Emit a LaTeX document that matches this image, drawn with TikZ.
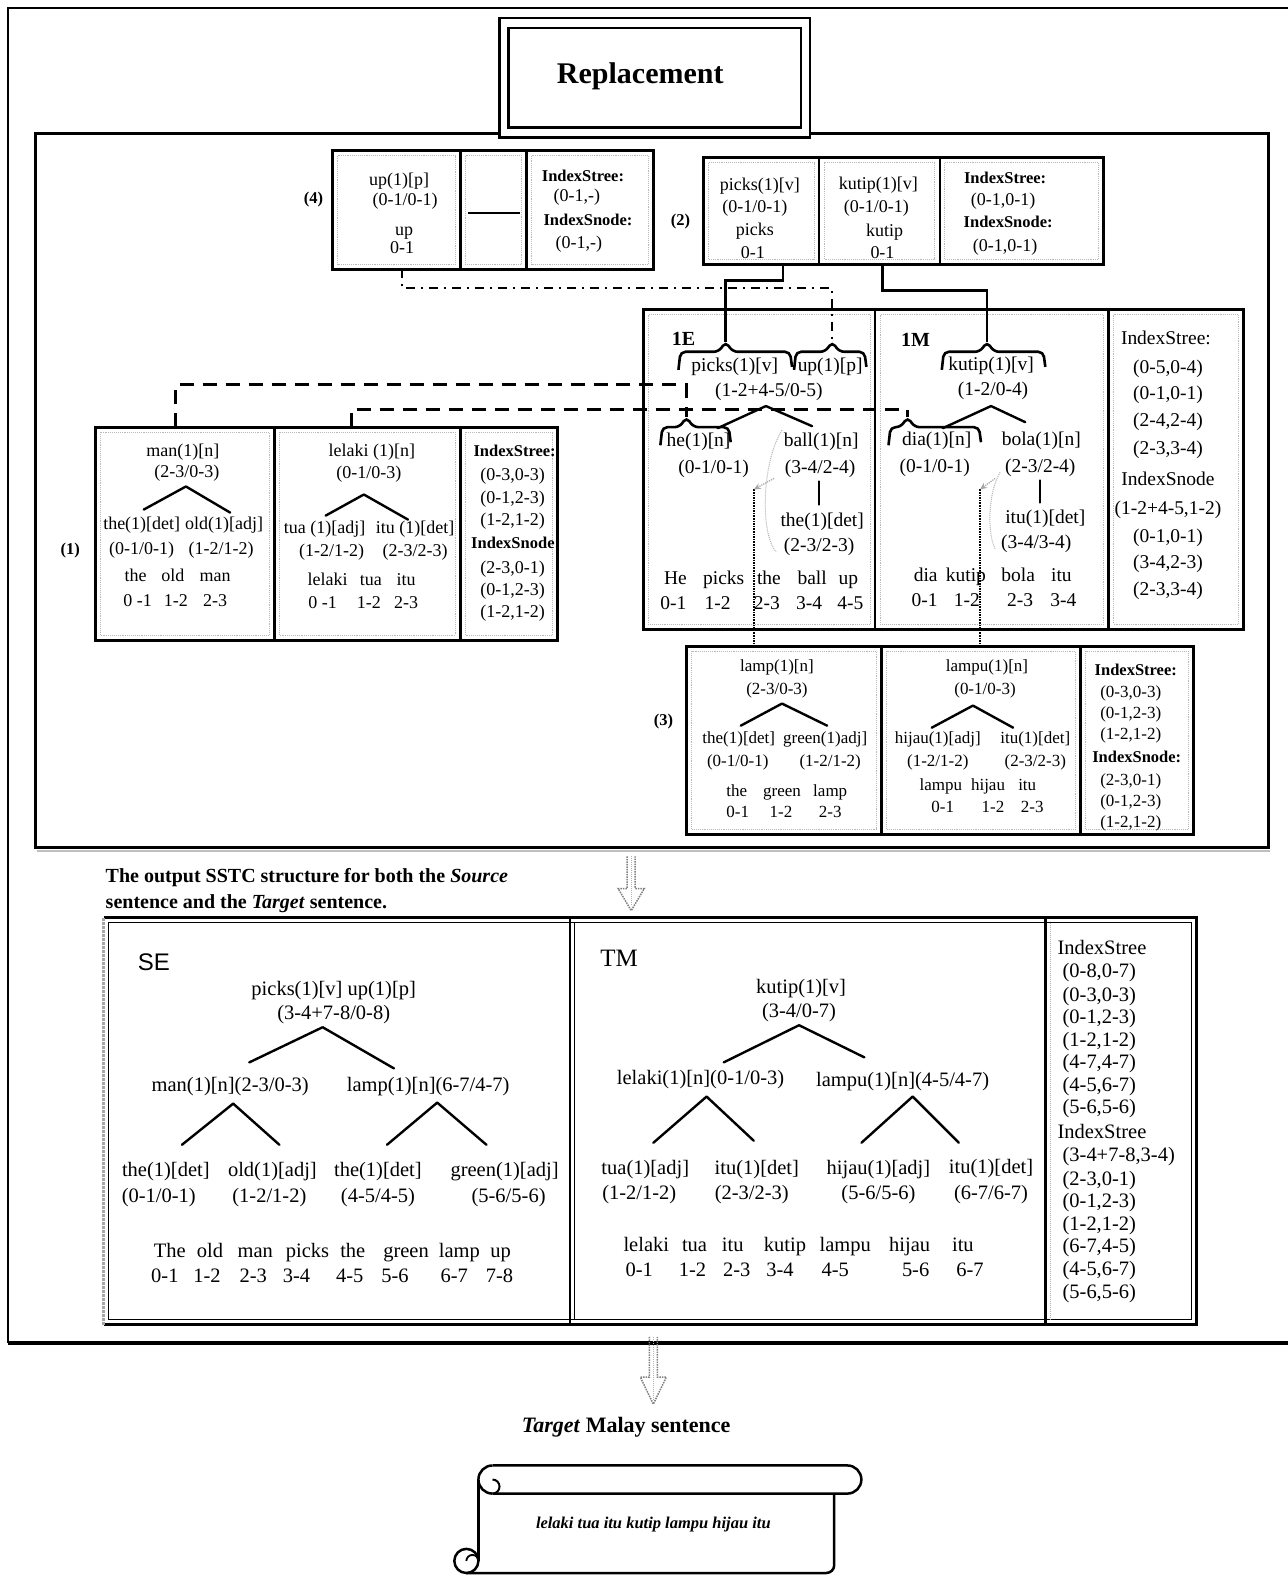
\documentclass[tikz,border=0pt]{standalone}
\usepackage{fontspec}
\setmainfont{Liberation Serif}
\newfontfamily\sansf{Liberation Sans}
\usetikzlibrary{arrows.meta,calc}
\newcommand\myinset[4]{\draw[gray!55, densely dotted, line width=0.9pt] ({#1+5},{#2+5}) rectangle ({#3-5},{#4-5});}
\newcommand\mybrace[4]{\draw[line width=2.6pt, rounded corners=5pt] (#1,{#4+18}) -- ({#1+2},#4) -- ({#3-7},#4) -- (#3,{#4-10}) -- ({#3+7},#4) -- ({#2-2},#4) -- (#2,{#4+15});}
\begin{document}
\begin{tikzpicture}[x=1.0055pt,y=-1.0055pt,
  every node/.style={inner sep=0pt},
  s/.style={font=\fontsize{18}{20}\selectfont, text height=13pt, text depth=4pt},
  sc/.style={font=\fontsize{17}{19}\selectfont, text height=12.5pt, text depth=4pt},
  sb/.style={font=\fontsize{16.5}{18}\selectfont\bfseries, text height=12pt, text depth=3.5pt},
  m/.style={font=\fontsize{19.5}{21}\selectfont, text height=14pt, text depth=4.5pt},
  bt/.style={font=\fontsize{20.5}{22}\selectfont, text height=14.5pt, text depth=4.5pt},
  frame/.style={line width=3pt},
  divider/.style={line width=2.5pt},
  tree/.style={line width=2.4pt, line cap=round},
  conn/.style={line width=2.6pt},
  dsh/.style={line width=3pt, dash pattern=on 14pt off 9pt},
  dashdot/.style={line width=2pt, dash pattern=on 9pt off 6pt on 2pt off 6pt},
  arr/.style={gray, densely dotted, line width=1.5pt},
]
\useasboundingbox (0,0) rectangle (1281,1568);
\fill[white] (0,0) rectangle (1281,1568);

% ---------- outer frame ----------
\draw[line width=2pt] (1281,8) -- (8,8) -- (8,1336);
\draw[line width=3.5pt] (8,1336) -- (1281,1336);

% ---------- replacement frame ----------
\draw[frame] (35,133) rectangle (1262,843);
\draw[gray!50, line width=2pt] (37,846.5) -- (1264,846.5);

% ---------- title ----------
\draw[line width=2.5pt, fill=white] (497,18) rectangle (806,137);
\draw[line width=2.5pt] (506,28) rectangle (797,127);
\node[font=\fontsize{30}{32}\selectfont\bfseries] (title) at (637,76) {Replacement};

% ---------- box (4) ----------
\draw[frame] (331,150) rectangle (650,268);
\draw[divider] (458,150) -- (458,268) (524,150) -- (524,268);
\myinset{331}{150}{458}{268}\myinset{458}{150}{524}{268}\myinset{524}{150}{650}{268}
\node[sb] (lab4) at (312,198) {(4)};
\node[s] (b4a) at (397,180) {up(1)[p]};
\node[s] (b4b) at (403,200) {(0-1/0-1)};
\node[s] (b4c) at (402,230) {up};
\node[s] (b4d) at (400,248) {0-1};
\coordinate (b4l) at (466,212); \coordinate (b4r) at (517,212);
\draw[line width=2.5pt] (b4l) -- (b4r);
\node[sb] (b4i1) at (580,176) {IndexStree:};
\node[s] (b4i2) at (574,196) {(0-1,-)};
\node[sb] (b4i3) at (585,220) {IndexSnode:};
\node[s] (b4i4) at (576,243) {(0-1,-)};

% ---------- box (2) ----------
\draw[frame] (700,157) rectangle (1098,263);
\draw[divider] (815,157) -- (815,263) (935,157) -- (935,263);
\myinset{700}{157}{815}{263}\myinset{815}{157}{935}{263}\myinset{935}{157}{1098}{263}
\node[sb] (lab2) at (677,220) {(2)};
\node[s] (b2a) at (756,185) {picks(1)[v]};
\node[s] (b2b) at (751,207) {(0-1/0-1)};
\node[s] (b2c) at (751,230) {picks};
\node[s] (b2d) at (749,253) {0-1};
\node[s] (b2e) at (874,184) {kutip(1)[v]};
\node[s] (b2f) at (872,207) {(0-1/0-1)};
\node[s] (b2g) at (880,231) {kutip};
\node[s] (b2h) at (878,253) {0-1};
\node[sb] (b2i1) at (1000,178) {IndexStree:};
\node[s] (b2i2) at (998,200) {(0-1,0-1)};
\node[sb] (b2i3) at (1003,222) {IndexSnode:};
\node[s] (b2i4) at (1000,246) {(0-1,0-1)};

% ---------- box 1E / 1M ----------
\draw[frame] (640,308) rectangle (1237,626);
\draw[line width=2pt] (871,308) -- (871,626);
\draw[frame] (1103,308) -- (1103,626);
\myinset{640}{308}{871}{626}\myinset{871}{308}{1103}{626}\myinset{1103}{308}{1237}{626}
\node[font=\fontsize{20}{22}\selectfont\bfseries] (E1) at (680,337) {1E};
\node[font=\fontsize{20}{22}\selectfont\bfseries] (M1) at (911,338) {1M};
% 1E tree
\node[m] (ePicks) at (731,365) {picks(1)[v]};
\node[m] (eUp) at (826,365) {up(1)[p]};
\node[m] (eIdx) at (765,390) {(1-2+4-5/0-5)};
\mybrace{675}{788}{722}{350}
\mybrace{790}{862}{828}{350}
\coordinate (tipPicks) at (722,340);
\coordinate (tipUp) at (828,340);
\coordinate (ePk) at (762,404); \coordinate (eL) at (714,426); \coordinate (eR) at (808,424);
\draw[tree] (ePk) -- (eL) (ePk) -- (eR);
\mybrace{657}{727}{683}{425}
\coordinate (tipHe) at (683,415);
\node[m] (eHe) at (695,440) {he(1)[n]};
\node[m] (eHeI) at (710,466) {(0-1/0-1)};
\node[m] (eBall) at (817,440) {ball(1)[n]};
\node[m] (eBallI) at (816,466) {(3-4/2-4)};
\coordinate (eB1) at (815,479); \coordinate (eB2) at (815,502);
\draw[tree] (eB1) -- (eB2);
\node[m] (eThe) at (818,519) {the(1)[det]};
\node[m] (eTheI) at (815,544) {(2-3/2-3)};
\foreach \w/\xx [count=\i] in {He/672,picks/720,the/765,ball/808,up/844}
  \node[m] (es\i) at (\xx,577) {\w};
\foreach \w/\xx [count=\i] in {0-1/670,1-2/714,2-3/763,3-4/805,4-5/846}
  \node[m] (en\i) at (\xx,602) {\w};
% dotted links in 1E
\coordinate (eD1) at (750,487); \coordinate (eD2) at (750,643);
\draw[line width=1.6pt, densely dotted] (eD1) -- (eD2);
\coordinate (eA1) at (770,476);
\draw[gray!70, densely dotted, line width=1.2pt, -{Stealth[length=7pt,width=6pt]}] (eA1) -- (eD1);
\coordinate (eG1) at (778,428); \coordinate (eG2) at (772,549);
\draw[gray!60, densely dotted, line width=1pt] (eG1) .. controls (758,460) and (756,530) .. (eG2);
% 1M tree
\node[m] (mKutip) at (986,364) {kutip(1)[v]};
\node[m] (mIdx) at (988,389) {(1-2/0-4)};
\mybrace{937}{1040}{982}{350}
\coordinate (tipKutip) at (982,340);
\coordinate (mPk) at (986,404); \coordinate (mL) at (938,426); \coordinate (mR) at (1020,420);
\draw[tree] (mPk) -- (mL) (mPk) -- (mR);
\mybrace{884}{976}{903}{425}
\coordinate (tipDia) at (903,415);
\node[m] (mDia) at (932,439) {dia(1)[n]};
\node[m] (mDiaI) at (930,465) {(0-1/0-1)};
\node[m] (mBola) at (1036,439) {bola(1)[n]};
\node[m] (mBolaI) at (1035,465) {(2-3/2-4)};
\coordinate (mB1) at (1035,478); \coordinate (mB2) at (1035,500);
\draw[tree] (mB1) -- (mB2);
\node[m] (mItu) at (1040,516) {itu(1)[det]};
\node[m] (mItuI) at (1031,541) {(3-4/3-4)};
\foreach \w/\xx [count=\i] in {dia/921,kutip/961,bola/1013,itu/1056}
  \node[m] (ms\i) at (\xx,574) {\w};
\foreach \w/\xx [count=\i] in {0-1/920,1-2/962,2-3/1015,3-4/1058}
  \node[m] (mn\i) at (\xx,599) {\w};
\coordinate (mD1) at (975,487); \coordinate (mD2) at (975,643);
\draw[line width=1.6pt, densely dotted] (mD1) -- (mD2);
\coordinate (mA1) at (990,476);
\draw[gray!70, densely dotted, line width=1.2pt, -{Stealth[length=7pt,width=6pt]}] (mA1) -- (mD1);
\coordinate (mG1) at (995,470); \coordinate (mG2) at (990,546);
\draw[gray!60, densely dotted, line width=1pt] (mG1) .. controls (983,490) and (982,530) .. (mG2);
% 1E index column
\node[m] (ei0) at (1160,338) {IndexStree:};
\foreach \yy/\lbl [count=\i] in {367/{(0-5,0-4)},393/{(0-1,0-1)},420/{(2-4,2-4)},447/{(2-3,3-4)},478/{IndexSnode},507/{(1-2+4-5,1-2)},535/{(0-1,0-1)},561/{(3-4,2-3)},588/{(2-3,3-4)}}
  \node[m] (ei\i) at (1162,\yy) {\lbl};

% ---------- box (1) ----------
\draw[frame] (95,425) rectangle (555,637);
\draw[divider] (273,425) -- (273,637);
\draw[frame] (458,425) -- (458,637);
\myinset{95}{425}{273}{637}\myinset{273}{425}{458}{637}\myinset{458}{425}{555}{637}
\node[sb] (lab1) at (70,547) {(1)};
\node[s] (aMan) at (182,450) {man(1)[n]};
\node[s] (aManI) at (186,471) {(2-3/0-3)};
\coordinate (aPk) at (185,484); \coordinate (aL) at (143,507); \coordinate (aR) at (229,510);
\draw[tree] (aPk) -- (aL) (aPk) -- (aR);
\node[s] (aThe) at (141,522) {the(1)[det]};
\node[s] (aOld) at (223,522) {old(1)[adj]};
\node[s] (aTheI) at (141,547) {(0-1/0-1)};
\node[s] (aOldI) at (220,547) {(1-2/1-2)};
\foreach \w/\xx [count=\i] in {the/135,old/172,man/214}
  \node[s] (as\i) at (\xx,574) {\w};
\foreach \w/\xx [count=\i] in {0 -1/137,1-2/175,2-3/214}
  \node[s] (an\i) at (\xx,599) {\w};
\node[s] (aLel) at (370,450) {lelaki (1)[n]};
\node[s] (aLelI) at (367,472) {(0-1/0-3)};
\coordinate (bPk) at (362,492); \coordinate (bL) at (324,513); \coordinate (bR) at (406,517);
\draw[tree] (bPk) -- (bL) (bPk) -- (bR);
\node[s] (aTua) at (323,526) {tua (1)[adj]};
\node[s] (aItu) at (413,526) {itu (1)[det]};
\node[s] (aTuaI) at (330,549) {(1-2/1-2)};
\node[s] (aItuI) at (413,549) {(2-3/2-3)};
\foreach \w/\xx [count=\i] in {lelaki/326,tua/369,itu/404}
  \node[s] (bs\i) at (\xx,578) {\w};
\foreach \w/\xx [count=\i] in {0 -1/321,1-2/367,2-3/404}
  \node[s] (bn\i) at (\xx,601) {\w};
\node[sb] (ai0) at (512,450) {IndexStree:};
\node[sb] (ai4) at (513,541) {IndexSnode:};
\foreach \yy/\lbl [count=\i] in {474/{(0-3,0-3)},496/{(0-1,2-3)},518/{(1-2,1-2)},566/{(2-3,0-1)},588/{(0-1,2-3)},610/{(1-2,1-2)}}
  \node[s] (aix\i) at (510,\yy) {\lbl};
\coordinate (c1m) at (175,425);
\coordinate (c1l) at (350,425);

% ---------- box (3) ----------
\draw[frame] (683,643) rectangle (1187,830);
\draw[divider] (877,643) -- (877,830);
\draw[frame] (1075,643) -- (1075,830);
\myinset{683}{643}{877}{830}\myinset{877}{643}{1075}{830}\myinset{1075}{643}{1187}{830}
\node[sb] (lab3) at (660,718) {(3)};
\node[sc] (cLamp) at (773,664) {lamp(1)[n]};
\node[sc] (cLampI) at (773,687) {(2-3/0-3)};
\coordinate (cPk) at (778,700); \coordinate (cL) at (737,722); \coordinate (cR) at (823,722);
\draw[tree] (cPk) -- (cL) (cPk) -- (cR);
\node[sc] (cThe) at (735,735) {the(1)[det]};
\node[sc] (cGreen) at (821,735) {green(1)adj]};
\node[sc] (cTheI) at (734,758) {(0-1/0-1)};
\node[sc] (cGreenI) at (826,758) {(1-2/1-2)};
\foreach \w/\xx [count=\i] in {the/733,green/778,lamp/826}
  \node[sc] (cs\i) at (\xx,788) {\w};
\foreach \w/\xx [count=\i] in {0-1/734,1-2/777,2-3/826}
  \node[sc] (cn\i) at (\xx,809) {\w};
\node[sc] (dLampu) at (982,664) {lampu(1)[n]};
\node[sc] (dLampuI) at (980,687) {(0-1/0-3)};
\coordinate (dPk) at (968,702); \coordinate (dL) at (927,724); \coordinate (dR) at (1008,724);
\draw[tree] (dPk) -- (dL) (dPk) -- (dR);
\node[sc] (dHij) at (933,735) {hijau(1)[adj]};
\node[sc] (dItu) at (1030,735) {itu(1)[det]};
\node[sc] (dHijI) at (933,758) {(1-2/1-2)};
\node[sc] (dItuI) at (1030,758) {(2-3/2-3)};
\foreach \w/\xx [count=\i] in {lampu/936,hijau/983,itu/1022}
  \node[sc] (ds\i) at (\xx,782) {\w};
\foreach \w/\xx [count=\i] in {0-1/938,1-2/988,2-3/1027}
  \node[sc] (dn\i) at (\xx,804) {\w};
\node[sb] (ci0) at (1130,668) {IndexStree:};
\node[sb] (ci4) at (1131,754) {IndexSnode:};
\foreach \yy/\lbl [count=\i] in {690/{(0-3,0-3)},711/{(0-1,2-3)},732/{(1-2,1-2)},777/{(2-3,0-1)},798/{(0-1,2-3)},819/{(1-2,1-2)}}
  \node[sc] (cix\i) at (1125,\yy) {\lbl};

% ---------- connectors in replacement area ----------
\coordinate (c2p) at (779,263);
\coordinate (c2k) at (878,263);
\coordinate (c4u) at (400,268);
\draw[conn] (c2p) -- ++(0,16) -| (tipPicks);
\draw[conn] (c2k) -- ++(0,26) -| (tipKutip);
\draw[dashdot] (c4u) -- ++(0,19) -| (tipUp);
\draw[dsh] (c1m) -- ++(0,-42) -| (tipHe);
\draw[dsh] (c1l) -- ++(0,-18) -| (tipDia);

% ---------- arrow 1 ----------
\coordinate (ar1) at (628,852);
\draw[arr] (ar1) ++(-4,0) -- ++(0,32) -- ++(-9,0) -- (628,906) -- (641,884) -- (632,884) -- (632,852);
\draw[gray!60, densely dotted, line width=1pt] (628,852) -- (628,900);

% ---------- caption ----------
\node[anchor=west, font=\fontsize{20}{22}\selectfont\bfseries] (cap1) at (105,873) {The output SSTC structure for both the \textit{Source}};
\node[anchor=west, font=\fontsize{20}{22}\selectfont\bfseries] (cap2) at (105,899) {sentence and the \textit{Target} sentence.};

% ---------- bottom box ----------
\draw[line width=3pt] (103,913) -- (1190,913) -- (1190,1318) -- (103,1318);
\draw[gray!70, densely dotted, line width=3pt] (103,913) -- (103,1318);
\draw[line width=1pt] (108,918) rectangle (1185,1313);
\draw[line width=2.5pt] (567,913) -- (567,1318);
\draw[line width=1pt] (572,918) -- (572,1313);
\draw[line width=3pt] (1040,913) -- (1040,1318);
\draw[gray!60, densely dotted, line width=1pt] (1045,918) -- (1045,1313);
% SE
\node[font=\sansf\fontsize{24}{26}\selectfont] (SE) at (153,957) {SE};
\node[bt] (se1) at (332,985) {picks(1)[v] up(1)[p]};
\node[bt] (se2) at (332,1009) {(3-4+7-8/0-8)};
\coordinate (sPk) at (321,1022); \coordinate (sL) at (248,1057); \coordinate (sR) at (392,1063);
\draw[tree] (sPk) -- (sL) (sPk) -- (sR);
\node[bt] (se3) at (229,1081) {man(1)[n](2-3/0-3)};
\node[bt] (se4) at (426,1081) {lamp(1)[n](6-7/4-7)};
\coordinate (sPk2) at (232,1098); \coordinate (sL2) at (181,1139); \coordinate (sR2) at (278,1139);
\draw[tree] (sPk2) -- (sL2) (sPk2) -- (sR2);
\coordinate (sPk3) at (435,1097); \coordinate (sL3) at (385,1139); \coordinate (sR3) at (484,1139);
\draw[tree] (sPk3) -- (sL3) (sPk3) -- (sR3);
\node[bt] (se5) at (165,1166) {the(1)[det]};
\node[bt] (se6) at (158,1191) {(0-1/0-1)};
\node[bt] (se7) at (271,1166) {old(1)[adj]};
\node[bt] (se8) at (268,1191) {(1-2/1-2)};
\node[bt] (se9) at (376,1166) {the(1)[det]};
\node[bt] (se10) at (376,1191) {(4-5/4-5)};
\node[bt] (se11) at (502,1166) {green(1)[adj]};
\node[bt] (se12) at (506,1191) {(5-6/5-6)};
\foreach \w/\xx [count=\i] in {The/169,old/209,man/254,picks/306,the/351,green/404,lamp/457,up/498}
  \node[bt] (ss\i) at (\xx,1246) {\w};
\foreach \w/\xx [count=\i] in {0-1/164,1-2/206,2-3/252,3-4/295,4-5/348,5-6/393,6-7/452,7-8/497}
  \node[bt] (sn\i) at (\xx,1271) {\w};
% TM
\node[font=\fontsize{25}{27}\selectfont] (TM) at (616,953) {TM};
\node[bt] (tm1) at (797,983) {kutip(1)[v]};
\node[bt] (tm2) at (795,1007) {(3-4/0-7)};
\coordinate (tPk) at (795,1020); \coordinate (tL) at (720,1057); \coordinate (tR) at (860,1052);
\draw[tree] (tPk) -- (tL) (tPk) -- (tR);
\node[bt] (tm3) at (697,1074) {lelaki(1)[n](0-1/0-3)};
\node[bt] (tm4) at (898,1076) {lampu(1)[n](4-5/4-7)};
\coordinate (tPk2) at (703,1091); \coordinate (tL2) at (650,1137); \coordinate (tR2) at (750,1135);
\draw[tree] (tPk2) -- (tL2) (tPk2) -- (tR2);
\coordinate (tPk3) at (908,1091); \coordinate (tL3) at (857,1137); \coordinate (tR3) at (954,1137);
\draw[tree] (tPk3) -- (tL3) (tPk3) -- (tR3);
\node[bt] (tm5) at (642,1164) {tua(1)[adj]};
\node[bt] (tm6) at (636,1188) {(1-2/1-2)};
\node[bt] (tm7) at (753,1164) {itu(1)[det]};
\node[bt] (tm8) at (748,1188) {(2-3/2-3)};
\node[bt] (tm9) at (874,1164) {hijau(1)[adj]};
\node[bt] (tm10) at (874,1188) {(5-6/5-6)};
\node[bt] (tm11) at (986,1163) {itu(1)[det]};
\node[bt] (tm12) at (986,1188) {(6-7/6-7)};
\foreach \w/\xx [count=\i] in {lelaki/643,tua/691,itu/729,kutip/781,lampu/841,hijau/905,itu/958}
  \node[bt] (ts\i) at (\xx,1240) {\w};
\foreach \w/\xx [count=\i] in {0-1/636,1-2/689,2-3/733,3-4/776,4-5/831,5-6/911,6-7/965}
  \node[bt] (tn\i) at (\xx,1265) {\w};
% index column
\node[bt, anchor=west] (xi0) at (1052,945) {IndexStree};
\node[bt, anchor=west] (xi8) at (1052,1128) {IndexStree};
\foreach \yy/\lbl [count=\i] in {968/{(0-8,0-7)},991/{(0-3,0-3)},1013/{(0-1,2-3)},1036/{(1-2,1-2)},1058/{(4-7,4-7)},1081/{(4-5,6-7)},1103/{(5-6,5-6)},1151/{(3-4+7-8,3-4)},1174/{(2-3,0-1)},1196/{(0-1,2-3)},1219/{(1-2,1-2)},1241/{(6-7,4-5)},1264/{(4-5,6-7)},1287/{(5-6,5-6)}}
  \node[bt, anchor=west] (xix\i) at (1057,\yy) {\lbl};

% ---------- arrow 2 ----------
\coordinate (ar2) at (650,1330);
\draw[arr] (ar2) ++(-4,0) -- ++(0,40) -- ++(-9,0) -- (650,1397) -- (663,1370) -- (654,1370) -- (654,1330);
\draw[gray!60, densely dotted, line width=1pt] (650,1330) -- (650,1392);

% ---------- target ----------
\node[font=\fontsize{22}{24}\selectfont\bfseries] (tgt) at (623,1420) {\textit{Target} Malay sentence};

% ---------- scroll ----------
\draw[line width=2.5pt] (490,1458) -- (843,1458) arc[start angle=-90, end angle=90, radius=14] -- (490,1486);
\draw[line width=2.5pt] (490,1486) arc[start angle=90, end angle=270, radius=14];
\draw[line width=2pt] (490,1472) arc[start angle=-90, end angle=90, radius=7];
\draw[line width=2.5pt] (476,1472) -- (476,1553);
\draw[line width=2.5pt, rounded corners=8pt] (830,1486) -- (830,1565) -- (464,1565);
\draw[line width=2.5pt] (464,1553) circle[radius=12];
\draw[line width=1.8pt] (464,1553) arc[start angle=180, end angle=360, radius=6];
\node[font=\fontsize{16.5}{18}\selectfont\bfseries\itshape] (scr) at (650,1517) {lelaki tua itu kutip lampu hijau itu};
\end{tikzpicture}
\end{document}
